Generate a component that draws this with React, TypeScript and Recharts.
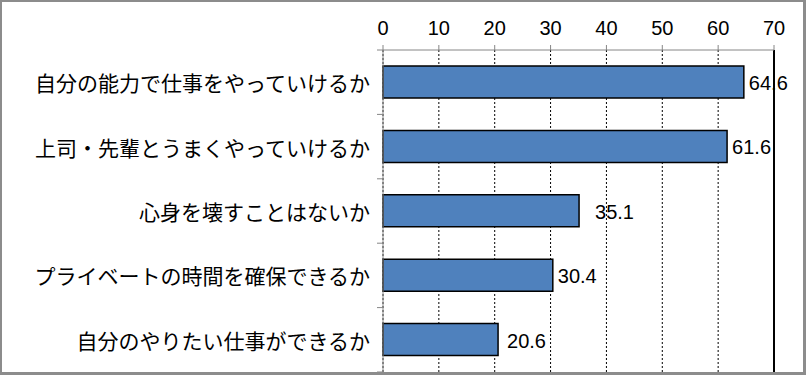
import { BarChart, Bar, XAxis, YAxis, CartesianGrid, ReferenceLine } from "recharts";

// 項目と値（％）
const categories = [
  "自分の能力で仕事をやっていけるか",
  "上司・先輩とうまくやっていけるか",
  "心身を壊すことはないか",
  "プライベートの時間を確保できるか",
  "自分のやりたい仕事ができるか",
];
const values = [64.6, 61.6, 35.1, 30.4, 20.6];
const xTicks = [0, 10, 20, 30, 40, 50, 60, 70];

// ラベルの位置（元のグラフに合わせて少しずらす）
const labelGaps = [5, 5, 16, 5, 9];

const data = categories.map((name, i) => ({ name, value: values[i] }));

const BAND = (372 - 50) / categories.length;

function CategoryTick(props: any) {
  const { x, y, payload, index } = props;
  return (
    <g>
      <line x1={x - 6} x2={x} y1={y - BAND / 2} y2={y - BAND / 2} stroke="#868686" />
      {index === categories.length - 1 && (
        <line x1={x - 6} x2={x} y1={y + BAND / 2} y2={y + BAND / 2} stroke="#868686" />
      )}
      <text
        x={x - 13}
        y={y}
        textAnchor="end"
        dominantBaseline="central"
        fontSize={21}
        fill="#000"
        fontFamily="'Noto Sans CJK JP', sans-serif"
      >
        {payload.value}
      </text>
    </g>
  );
}

function ValueLabel(props: any) {
  const { x, y, width, height, value, index } = props;
  const gap = labelGaps[index] ?? 5;
  return (
    <text
      x={Number(x) + Number(width) + gap}
      y={Number(y) + Number(height) / 2 + 1}
      dominantBaseline="central"
      fill="#000"
      fontSize={20}
      fontFamily="'Liberation Sans', Arial, sans-serif"
    >
      {Number(value).toFixed(1)}
    </text>
  );
}

export default function App() {
  return (
    <div
      style={{
        position: "absolute",
        left: 0,
        top: 0,
        width: 806,
        height: 375,
        background: "#fff",
      }}
    >
      <BarChart
        width={806}
        height={375}
        data={data}
        layout="vertical"
        barSize={32}
        margin={{ top: 0, right: 32, bottom: 3, left: 0 }}
      >
        <CartesianGrid horizontal={false} stroke="#000" strokeDasharray="2 2" />
        <XAxis
          type="number"
          orientation="top"
          domain={[0, 70]}
          ticks={xTicks}
          height={50}
          stroke="#868686"
          tickSize={5}
          tickMargin={10}
          tick={{ fill: "#000", fontSize: 20, fontFamily: "'Liberation Sans', Arial, sans-serif" }}
        />
        <YAxis
          type="category"
          dataKey="name"
          width={383}
          stroke="#868686"
          tickLine={false}
          tickSize={0}
          tickMargin={0}
          tick={<CategoryTick />}
          interval={0}
        />
        <ReferenceLine x={70} stroke="#000" strokeWidth={2} />
        <Bar
          dataKey="value"
          fill="#4F81BD"
          stroke="#000"
          strokeWidth={1.5}
          isAnimationActive={false}
          label={(p: any) => <ValueLabel {...p} />}
        />
      </BarChart>
      <div
        style={{
          position: "absolute",
          left: 0,
          top: 0,
          width: 806,
          height: 375,
          boxSizing: "border-box",
          borderTop: "2px solid #8c8c8c",
          borderLeft: "2px solid #8c8c8c",
          borderRight: "3px solid #8c8c8c",
          borderBottom: "3px solid #8c8c8c",
          pointerEvents: "none",
        }}
      />
    </div>
  );
}
